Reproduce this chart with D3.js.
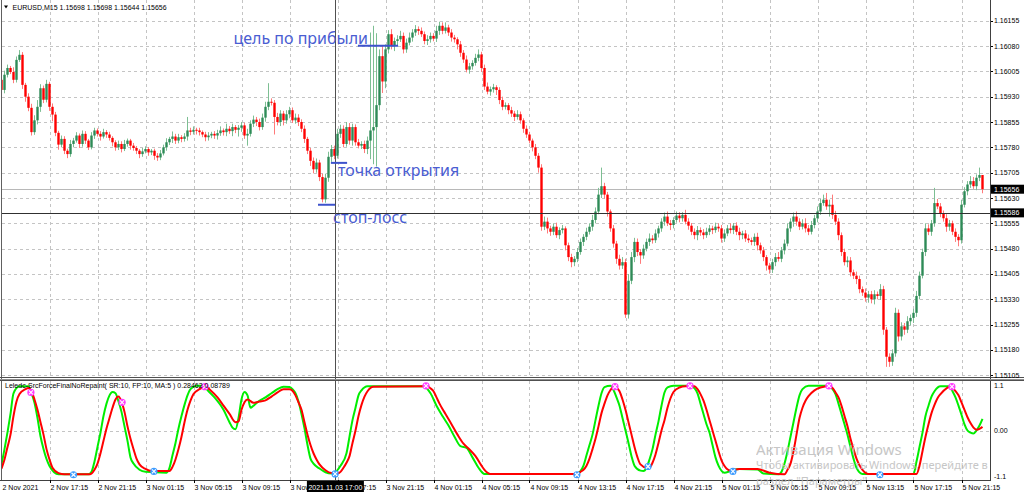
<!DOCTYPE html>
<html><head><meta charset="utf-8">
<script src="https://cdn.jsdelivr.net/npm/d3@7"></script>
<style>html,body{margin:0;padding:0;background:#fff;overflow:hidden}</style>
</head><body><svg id="c" width="1024" height="494"></svg>
<script>
// ---------- DATA ----------
const symbolTitle = "EURUSD,M15  1.15698 1.15698 1.15644 1.15656";
const indicatorTitle = "Leledc-SrcForceFinalNoRepaint( SR:10, FP:10, MA:5 ) 0.28462 0.08789";
// prices in points above 1.15000 (1 point = 0.00001)
const firstOpen = 980;
const closes = [
950,995,1015,1003,980,1039,1054,965,930,897,
825,860,900,955,921,968,900,877,823,788,
805,770,760,790,800,815,790,820,800,780,
815,830,820,812,825,818,808,795,780,790,
775,790,800,785,778,770,760,768,775,765,
770,755,750,762,780,795,805,812,800,810,
805,812,830,826,832,830,825,818,810,815,
820,815,822,830,825,835,828,840,832,838,
845,815,820,850,862,855,840,868,900,915,
912,870,855,880,860,878,890,860,868,855,
835,805,770,740,715,735,692,626,690,752,
775,755,820,835,790,840,800,840,795,785,
790,775,800,830,840,905,1050,975,1070,1115,
1080,1095,1100,1110,1070,1090,1105,1120,1130,1125,
1115,1095,1100,1110,1102,1125,1140,1125,1135,1120,
1105,1100,1085,1060,1040,1010,1020,1030,1045,1055,
1015,960,945,952,958,950,920,900,905,890,
880,870,878,860,835,818,800,780,755,720,
545,560,540,530,545,520,535,540,490,455,
440,450,470,500,515,530,545,565,590,640,
665,640,590,540,495,450,430,440,285,385,
455,500,470,460,480,500,510,505,525,540,
560,575,555,550,565,578,570,580,560,548,
530,520,535,528,520,530,540,535,545,540,
510,525,540,535,548,530,520,525,510,505,
500,515,490,475,455,430,418,440,455,450,
475,495,540,560,575,560,545,555,540,530,
550,570,590,615,625,605,610,580,560,520,
470,440,445,410,400,390,360,350,335,345,
330,345,340,360,240,160,145,170,290,220,
250,240,265,275,290,340,400,470,540,530,
555,615,605,585,570,545,555,530,515,505,
610,650,670,680,665,690,698,656];
const upWick = [
8,12,10,6,14,10,14,8,6,10, 12,15,20,12,8,12,6,10,8,6, 10,8,6,12,8,10,6,10,8,5,
10,8,6,8,10,6,8,5,6,10, 8,12,6,5,8,6,5,10,8,6, 5,6,8,10,8,12,6,15,8,10,
6,10,40,8,10,6,8,5,8,10, 6,8,10,12,6,15,8,10,6,8, 10,8,15,10,12,8,10,12,15,55,
10,8,12,10,8,12,10,8,12,10, 8,10,6,8,10,12,8,10,12,15, 12,10,15,12,10,15,12,10,8,10,
8,10,12,290,300,213,20,30,15,12, 15,10,12,15,10,12,15,10,12,8, 10,8,12,10,8,15,12,10,15,8,
10,8,6,10,8,12,10,8,12,15, 8,10,12,8,10,6,8,10,8,6, 10,8,12,8,6,10,8,6,10,8,
10,15,12,8,10,12,8,10,6,8, 10,8,12,10,8,12,10,15,12,20, 55,10,8,6,10,8,12,15,10,20,
15,12,10,8,12,10,15,10,12,8, 10,12,15,10,8,12,10,8,15,10, 8,10,12,8,10,12,10,8,12,10,
10,12,10,15,8,10,12,8,10,12, 8,10,12,8,10,6,8,10,12,15, 10,12,15,10,12,15,10,12,15,10,
12,10,15,12,15,20,15,30,12,10, 8,10,12,10,8,12,10,8,12,10, 10,12,8,15,10,8,10,12,15,10,
12,10,15,10,12,15,12,10,15,12, 10,45,12,10,8,12,10,8,10,8, 15,12,10,15,12,10,22,0];
const downWick = [
20,10,8,6,10,8,6,12,15,10, 10,8,12,15,10,8,12,20,10,15, 8,10,12,8,10,6,12,8,10,8,
6,10,8,12,6,10,8,12,10,8, 10,6,8,12,8,10,12,8,6,10, 8,12,10,8,6,10,8,12,10,8,
10,8,12,10,8,12,10,8,12,10, 8,10,12,8,10,12,8,15,10,20, 12,10,30,8,10,12,10,8,12,10,
8,52,10,12,15,10,12,8,10,12, 10,12,10,15,12,10,12,9,10,12, 15,10,8,12,10,8,12,15,10,8,
10,12,15,55,100,117,15,34,20,12, 10,15,12,8,12,10,8,12,10,12, 8,10,12,10,8,10,12,10,8,10,
12,10,15,12,10,8,12,10,8,10, 12,10,8,12,10,15,12,10,8,12, 10,12,8,10,12,10,8,12,10,15,
12,10,15,12,10,8,12,10,15,12, 15,12,10,8,12,10,8,12,10,8, 10,12,15,10,12,15,12,10,10,12,
10,15,12,25,10,8,12,10,8,12, 10,12,8,15,10,8,12,10,8,12, 10,12,15,10,12,8,10,12,8,10,
12,10,8,10,12,10,15,12,10,8, 10,12,15,10,12,15,12,10,12,8, 10,12,8,10,15,12,10,8,12,10,
8,10,12,10,8,10,30,12,10,15, 12,10,15,12,10,15,12,10,12,15, 12,15,10,12,15,30,15,12,10,15,
12,15,10,12,15,12,10,8,12,10, 12,10,8,12,10,15,12,10,15,18, 10,8,12,10,8,12,10,12];
const priceTicks = [1.16155,1.16080,1.16005,1.15930,1.15855,1.15780,1.15705,1.15630,1.15555,1.15480,1.15405,1.15330,1.15255,1.15180,1.15105];
const timeLabels = ["2 Nov 2021","2 Nov 17:15","2 Nov 21:15","3 Nov 01:15","3 Nov 05:15","3 Nov 09:15","3 Nov 13:15","3 Nov 17:15","3 Nov 21:15","4 Nov 01:15","4 Nov 05:15","4 Nov 09:15","4 Nov 13:15","4 Nov 17:15","4 Nov 21:15","5 Nov 01:15","5 Nov 05:15","5 Nov 09:15","5 Nov 13:15","5 Nov 17:15","5 Nov 21:15"];
const timeLabelBars = [0,16,32,48,64,80,96,112,128,144,160,176,192,208,224,240,256,272,288,304,320];
const indTicks = [1.1, 0, -1.1];
const indTickLabels = ["1.1","0.00","-1.1"];
const lastPrice = 1.15656;
const crossPrice = 1.15586;
const crossBar = 111.3;
const crossTimeLabel = "2021.11.03 17:00";
// annotations
const annTexts = ["цель по прибыли","точка открытия","стоп-лосс"];
const annTextBars = [77.3, 112.2, 110.5];
const annTextPrices = [1.16085, 1.15694, 1.15556];
const annLineFrom = [118.8, 109.8, 105.5];
const annLineTo = [132.2, 115.2, 111.2];
const annLinePrice = [1.16081, 1.15734, 1.15610];
// indicator lines [bar, value]
const greenLine = [[0,-0.82],[1,-0.45],[3,0.4],[4,0.9],[6,1.07],[9,1.07],[10,0.9],[11,0.67],[12,0.3],[13,-0.14],[14,-0.45],[16,-0.86],[19,-1.06],[29,-1.06],
[30,-1.0],[31,-0.75],[32,-0.4],[33,-0.05],[34,0.35],[35,0.65],[36,0.85],[37,0.93],[38,0.9],[39,0.7],[40,0.45],[41,0.1],[42,-0.25],[43,-0.65],[44,-0.8],[46,-0.95],[48,-1.0],[55,-1.02],
[56,-0.9],[57,-0.6],[58,-0.3],[59,0.05],[60,0.35],[61,0.62],[62,0.85],[63,1.0],[65,1.08],[67,1.08],[69,0.95],[71,0.8],[74,0.5],[76,0.2],[77,0.07],[78,0.03],
[79,0.3],[80,0.75],[81,0.93],[82,0.85],[83,0.55],[84,0.6],[86,0.72],[88,0.8],[90,0.9],[92,1.0],[94,1.06],[96,1.05],[97,1.0],
[98,0.9],[99,0.7],[100,0.4],[101,0.05],[102,-0.35],[103,-0.68],[104,-0.8],[106,-0.92],[108,-1.01],[110,-1.04],
[111,-1.02],[113,-0.85],[115,-0.55],[116,-0.15],[117,0.25],[118,0.55],[119,0.85],[120,0.97],[122,1.07],[141,1.07],
[142,1.0],[143,0.9],[145,0.6],[147,0.35],[149,0.12],[151,-0.15],[153,-0.38],[155,-0.42],[157,-0.65],[159,-0.9],[161,-1.05],[192,-1.05],
[193,-0.98],[194,-0.85],[195,-0.6],[196,-0.35],[197,-0.1],[198,0.25],[199,0.6],[200,0.9],[201,1.05],[203,1.08],
[204,0.98],[205,0.8],[206,0.6],[207,0.3],[208,0.0],[209,-0.3],[210,-0.62],[211,-0.85],[213,-0.97],[214,-0.98],
[215,-0.9],[216,-0.7],[217,-0.45],[218,-0.1],[219,0.22],[220,0.6],[221,0.92],[222,1.04],[224,1.08],[230,1.08],
[231,1.02],[232,0.9],[233,0.65],[234,0.4],[235,0.15],[236,-0.05],[237,-0.35],[238,-0.65],[239,-0.85],[241,-1.02],
[243,-0.98],[246,-0.93],[252,-0.94],[254,-1.04],[259,-1.06],
[260,-1.0],[261,-0.8],[262,-0.5],[263,-0.15],[264,0.2],[265,0.55],[266,0.85],[267,1.0],[269,1.08],[276,1.08],
[277,1.0],[278,0.88],[279,0.65],[280,0.4],[281,0.15],[282,-0.1],[283,-0.4],[284,-0.68],[285,-0.9],[287,-1.05],[304,-1.05],
[305,-0.75],[306,-0.4],[307,-0.05],[308,0.35],[309,0.6],[310,0.82],[311,0.95],[313,1.07],[316,1.07],
[317,0.95],[318,0.8],[319,0.6],[320,0.38],[321,0.15],[322,0.0],[323,-0.05],[324,-0.07],[325,0.0],[326,0.12],[327,0.28]];
const redLine = [[0,-0.92],[1,-0.7],[2,-0.4],[3,-0.1],[4,0.35],[5,0.7],[6,0.88],[8,1.0],[9,1.03],[10,0.95],
[11,0.75],[12,0.5],[13,0.2],[14,-0.1],[15,-0.45],[16,-0.7],[17,-0.9],[19,-1.03],[21,-1.06],[29,-1.06],
[30,-1.04],[31,-0.95],[32,-0.8],[33,-0.55],[34,-0.25],[35,0.05],[36,0.3],[37,0.55],[38,0.75],[39,0.82],[40,0.7],
[41,0.45],[42,0.1],[43,-0.2],[44,-0.45],[45,-0.68],[46,-0.82],[48,-0.93],[50,-0.98],[56,-0.98],
[57,-0.88],[58,-0.7],[59,-0.45],[60,-0.15],[61,0.2],[62,0.5],[63,0.72],[64,0.88],[66,1.0],[68,1.05],
[70,0.95],[72,0.8],[74,0.6],[76,0.4],[78,0.2],[79,0.22],
[80,0.5],[81,0.68],[82,0.75],[84,0.67],[86,0.7],[88,0.73],[90,0.82],[92,0.92],[94,1.0],[96,1.0],[97,0.96],
[98,0.85],[99,0.68],[100,0.5],[101,0.2],[102,-0.1],[103,-0.35],[104,-0.55],[105,-0.7],[106,-0.82],[108,-0.96],[110,-1.03],[112,-1.04],
[113,-1.0],[114,-0.9],[115,-0.78],[116,-0.62],[117,-0.3],[118,0.0],[119,0.35],[120,0.62],[121,0.82],[122,0.95],[124,1.06],[142,1.07],
[143,1.02],[144,0.95],[145,0.8],[146,0.65],[147,0.52],[148,0.4],[150,0.15],[152,-0.1],[154,-0.32],[156,-0.46],[158,-0.62],[160,-0.85],[161,-0.95],[163,-1.05],[192,-1.05],
[193,-1.0],[194,-0.95],[195,-0.85],[196,-0.68],[197,-0.45],[198,-0.2],[199,0.1],[200,0.42],[201,0.65],[202,0.85],[203,0.98],[204,1.05],[205,1.03],
[206,0.95],[207,0.75],[208,0.5],[209,0.2],[210,-0.1],[211,-0.4],[212,-0.65],[213,-0.82],[215,-0.9],[216,-0.9],
[217,-0.78],[218,-0.58],[219,-0.3],[220,0.0],[221,0.25],[222,0.55],[223,0.78],[224,0.93],[226,1.04],[228,1.07],[231,1.07],
[232,1.0],[233,0.88],[234,0.72],[235,0.5],[236,0.25],[237,0.0],[238,-0.25],[239,-0.5],[240,-0.72],[241,-0.86],[243,-0.97],
[246,-0.93],[252,-0.93],[256,-1.02],[261,-1.06],
[262,-0.95],[263,-0.8],[264,-0.5],[265,-0.1],[266,0.3],[267,0.55],[268,0.72],[269,0.83],[271,0.97],[273,1.04],[276,1.07],
[277,1.03],[278,0.92],[279,0.8],[280,0.6],[281,0.35],[282,0.1],[283,-0.2],[284,-0.45],[285,-0.68],[286,-0.84],[287,-0.95],[289,-1.05],[305,-1.05],
[306,-0.85],[307,-0.5],[308,-0.15],[309,0.15],[310,0.42],[311,0.62],[312,0.78],[313,0.88],[315,1.02],[316,1.05],
[317,1.03],[318,0.95],[319,0.85],[320,0.68],[321,0.5],[322,0.32],[323,0.18],[324,0.07],[325,0.02],[326,0.04],[327,0.088]];
const topMarkers = [[9.8,0.92],[40.2,0.68],[67.8,1.06],[141.5,1.08],[204.5,1.06],[229.5,1.08],[275.8,1.08],[316.8,1.06]];
const bottomMarkers = [[24,-1.07],[50.8,-0.99],[111.2,-1.05],[191.8,-1.07],[215.5,-0.87],[243.8,-0.99],[292.8,-1.07]];
const watermark = ["Активация Windows","Чтобы активировать Windows, перейдите в","раздел \"Параметры\"."];

// ---------- LAYOUT ----------
const svg = d3.select('#c');
const AX = 990, MAIN_BOTTOM = 377, IND_TOP = 380, IND_BOTTOM = 480;
const FONT = "'Liberation Sans', Arial, sans-serif";
const x = d3.scaleLinear().domain([0, 329.5]).range([1.5, 990]);
const y = d3.scaleLinear().domain([1.15105, 1.16155]).range([375.3, 20.7]);
const yi = d3.scaleLinear().domain([-1.1, 1.1]).range([476, 385]);
const toPrice = v => 1.15 + v / 100000;
const px = v => Math.round(v) + 0.5;

svg.append('rect').attr('width',1024).attr('height',494).attr('fill','#fff');
const defs = svg.append('defs');
defs.append('clipPath').attr('id','clipMain').append('rect').attr('x',2).attr('y',0).attr('width',AX-2).attr('height',MAIN_BOTTOM);
defs.append('clipPath').attr('id','clipInd').append('rect').attr('x',2).attr('y',IND_TOP+1).attr('width',AX-2).attr('height',IND_BOTTOM-IND_TOP-1);

// grid
const grid = svg.append('g').attr('stroke','#c4c4c4').attr('stroke-dasharray','3,3').attr('shape-rendering','crispEdges');
grid.selectAll('line.h').data(priceTicks).join('line').attr('class','h')
  .attr('x1',2).attr('x2',AX).attr('y1',d=>px(y(d))).attr('y2',d=>px(y(d)));
grid.selectAll('line.v').data(timeLabelBars.slice(1)).join('line').attr('class','v')
  .attr('x1',d=>px(x(d))).attr('x2',d=>px(x(d))).attr('y1',0).attr('y2',MAIN_BOTTOM);
grid.selectAll('line.vi').data(timeLabelBars.slice(1)).join('line').attr('class','vi')
  .attr('x1',d=>px(x(d))).attr('x2',d=>px(x(d))).attr('y1',IND_TOP+1).attr('y2',IND_BOTTOM);
grid.append('line').attr('x1',2).attr('x2',AX).attr('y1',px(yi(0))).attr('y2',px(yi(0)));

// last price line
svg.append('line').attr('x1',2).attr('x2',AX).attr('y1',px(y(lastPrice))).attr('y2',px(y(lastPrice)))
  .attr('stroke','#b8b8b8').attr('shape-rendering','crispEdges');

// candles
const candles = closes.map((c,i)=>{
  const o = i===0 ? firstOpen : closes[i-1];
  return {i, o:toPrice(o), c:toPrice(c), h:toPrice(Math.max(o,c)+upWick[i]), l:toPrice(Math.min(o,c)-downWick[i])};
});
const cg = svg.append('g').attr('clip-path','url(#clipMain)');
cg.selectAll('line.w').data(candles).join('line').attr('class','w')
  .attr('x1',d=>x(d.i)).attr('x2',d=>x(d.i)).attr('y1',d=>y(d.h)).attr('y2',d=>y(d.l))
  .attr('stroke',d=>d.c>=d.o?'#7dbf93':'#ff7a7a').attr('stroke-width',1);
cg.selectAll('rect.b').data(candles).join('rect').attr('class','b')
  .attr('x',d=>x(d.i)-1.2).attr('width',2.4)
  .attr('y',d=>Math.min(y(d.o),y(d.c))).attr('height',d=>Math.max(1,Math.abs(y(d.o)-y(d.c))))
  .attr('fill',d=>d.c>=d.o?'#2e8b57':'#ff0000');

// crosshair
svg.append('line').attr('x1',2).attr('x2',AX).attr('y1',px(y(crossPrice))).attr('y2',px(y(crossPrice)))
  .attr('stroke','#303030').attr('shape-rendering','crispEdges');
svg.append('line').attr('x1',px(x(crossBar))).attr('x2',px(x(crossBar))).attr('y1',0).attr('y2',IND_BOTTOM)
  .attr('stroke','#505050').attr('shape-rendering','crispEdges');

// annotations
const BLUE = '#3d52cc';
const ag = svg.append('g');
annTexts.forEach((t,k)=>{
  ag.append('line').attr('x1',x(annLineFrom[k])).attr('x2',x(annLineTo[k]))
    .attr('y1',y(annLinePrice[k])).attr('y2',y(annLinePrice[k])).attr('stroke',BLUE).attr('stroke-width',2);
  ag.append('text').attr('x',x(annTextBars[k])).attr('y',y(annTextPrices[k])).text(t)
    .attr('fill','#4a5dd2').attr('font-family',"'Noto Sans', 'Open Sans', sans-serif").attr('font-size',16);
});

// indicator
const ig = svg.append('g').attr('clip-path','url(#clipInd)');
const line = d3.line().x(d=>x(d[0])).y(d=>yi(d[1])).curve(d3.curveMonotoneX);
ig.append('path').attr('d',line(greenLine)).attr('fill','none').attr('stroke','#00ee00').attr('stroke-width',2);
ig.append('path').attr('d',line(redLine)).attr('fill','none').attr('stroke','#ff0000').attr('stroke-width',2);
function marker(g, data, col){
  const m = g.selectAll(null).data(data).join('g').attr('transform',d=>`translate(${x(d[0])},${yi(d[1])})`);
  m.append('circle').attr('r',3.6).attr('fill',col);
  m.append('path').attr('d','M-2,-2L2,2M-2,2L2,-2').attr('stroke','#fff').attr('stroke-width',1.1);
}
marker(ig, topMarkers, '#ff3cff');
marker(ig, bottomMarkers, '#3d9cff');

// borders and axes
const bg = svg.append('g').attr('shape-rendering','crispEdges').attr('fill','none');
bg.append('line').attr('x1',1.5).attr('x2',1.5).attr('y1',0).attr('y2',IND_BOTTOM).attr('stroke','#606060');
bg.append('line').attr('x1',AX+0.5).attr('x2',AX+0.5).attr('y1',0).attr('y2',IND_BOTTOM).attr('stroke','#404040');
bg.append('line').attr('x1',0).attr('x2',1024).attr('y1',MAIN_BOTTOM+0.5).attr('y2',MAIN_BOTTOM+0.5).attr('stroke','#505050');
bg.append('line').attr('x1',0).attr('x2',1024).attr('y1',IND_TOP-0.5).attr('y2',IND_TOP-0.5).attr('stroke','#909090');
bg.append('line').attr('x1',0).attr('x2',1024).attr('y1',IND_TOP+0.5).attr('y2',IND_TOP+0.5).attr('stroke','#505050');
bg.append('line').attr('x1',0).attr('x2',AX+1).attr('y1',IND_BOTTOM+0.5).attr('y2',IND_BOTTOM+0.5).attr('stroke','#404040');

const tg = svg.append('g').attr('font-family',FONT).attr('font-size',7).attr('fill','#000');
// price axis
tg.selectAll('text.p').data(priceTicks).join('text').attr('class','p')
  .attr('x',AX+4).attr('y',d=>y(d)+2.5).text(d=>d3.format('.5f')(d));
bg.selectAll('line.pt').data(priceTicks).join('line').attr('class','pt')
  .attr('x1',AX+1).attr('x2',AX+3).attr('y1',d=>px(y(d))).attr('y2',d=>px(y(d))).attr('stroke','#000');
// indicator axis
tg.selectAll('text.i').data(indTicks).join('text').attr('class','i')
  .attr('x',AX+4).attr('y',d=>yi(d)+2.5).text((d,k)=>indTickLabels[k]);
// time axis
tg.selectAll('text.t').data(timeLabels).join('text').attr('class','t')
  .attr('x',(d,k)=>x(timeLabelBars[k])+1).attr('y',489.5).text(d=>d);
bg.selectAll('line.tt').data(timeLabelBars.slice(1)).join('line').attr('class','tt')
  .attr('x1',d=>px(x(d))).attr('x2',d=>px(x(d))).attr('y1',IND_BOTTOM).attr('y2',IND_BOTTOM+3).attr('stroke','#000');

// price boxes
function box(yv, label){
  svg.append('rect').attr('x',AX+1).attr('y',yv-4.5).attr('width',1024-AX-1).attr('height',9).attr('fill','#000');
  svg.append('text').attr('x',AX+4).attr('y',yv+2.5).text(label).attr('fill','#fff')
    .attr('font-family',FONT).attr('font-size',7);
}
box(y(lastPrice), d3.format('.5f')(lastPrice));
box(y(crossPrice), d3.format('.5f')(crossPrice));
// time box
const cx = x(crossBar);
svg.append('rect').attr('x',cx-28.5).attr('y',IND_BOTTOM+1).attr('width',57).attr('height',11).attr('fill','#000');
svg.append('text').attr('x',cx).attr('y',489.5).attr('text-anchor','middle').text(crossTimeLabel)
  .attr('fill','#fff').attr('font-family',FONT).attr('font-size',7);

// titles
svg.append('path').attr('d','M4,5.5L8,5.5L6,8.5Z').attr('fill','#000');
tg.append('text').attr('x',12.5).attr('y',9.5).text(symbolTitle);
tg.append('text').attr('x',5).attr('y',387.5).text(indicatorTitle);

// watermark
const wg = svg.append('g').attr('fill','#bdbdbd').attr('font-family',"'Noto Sans', 'Open Sans', sans-serif").attr('opacity',0.85);
wg.append('text').attr('x',756).attr('y',455).attr('font-size',15).text(watermark[0]);
wg.append('text').attr('x',756).attr('y',469).attr('font-size',11).text(watermark[1]);
wg.append('text').attr('x',756).attr('y',484.5).attr('font-size',11).text(watermark[2]);
</script></body></html>
